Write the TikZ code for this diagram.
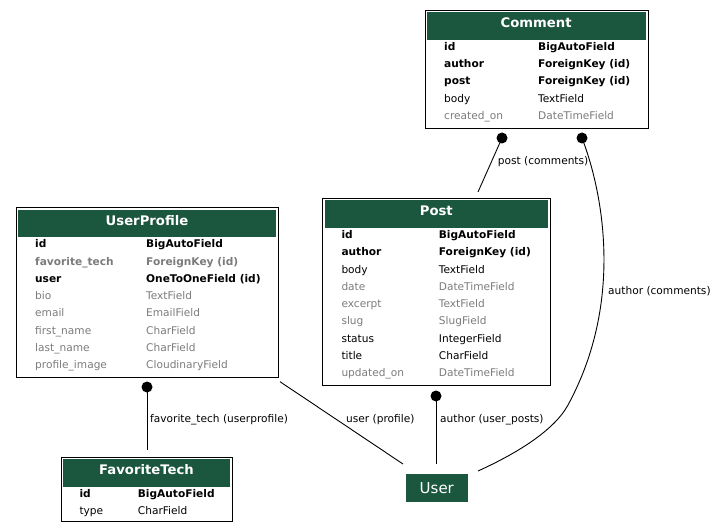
\documentclass[tikz,border=0pt]{standalone}
\usepackage{fontspec}
\setmainfont{DejaVu Sans}
\definecolor{hdr}{HTML}{1B563F}
\definecolor{dim}{HTML}{7B7B7B}
\tikzset{
  tableframe/.style={draw=black, line width=1pt, anchor=north west, inner sep=0pt},
  headbar/.style={fill=hdr, anchor=north west, inner sep=0pt},
  headtext/.style={text=white, font=\fontsize{13.2}{15}\selectfont\bfseries, anchor=base, inner sep=0pt},
  fieldtext/.style={anchor=base west, inner sep=0pt, font=\fontsize{10.6}{12}\selectfont},
  fb/.style={fieldtext, font=\fontsize{10.6}{12}\selectfont\bfseries},
  fbg/.style={fb, text=dim},
  fn/.style={fieldtext},
  fg/.style={fieldtext, text=dim},
  reltext/.style={anchor=base west, inner sep=0pt, font=\fontsize{10.6}{12}\selectfont},
  knob/.style={circle, fill=black, inner sep=0pt, minimum size=11pt},
  rel/.style={line width=0.9pt},
  userbox/.style={fill=hdr, text=white, inner sep=0pt, minimum width=62pt, minimum height=27.5pt,
    font=\fontsize{15}{17}\selectfont},
}
% \erdtable{name}{left}{top}{right}{bottom}{title}{col1 x}{col2 x}{rows}
\newcommand{\erdtable}[9]{%
  \node[tableframe, minimum width={#4pt-#2pt}, minimum height={#5pt-#3pt}] (#1) at (#2,#3) {};
  \node[headbar, minimum width={#4pt-#2pt-4.4pt}, minimum height=27.5pt] (#1-head) at (#2+2.2,#3+2.2) {};
  \node[headtext] (#1-title) at ({(#2+#4)/2},#3+17.9) {#6};
  \foreach [count=\i] \s/\f/\t in {#9} {
    \node[\s] (#1-f\i) at (#7,{#3+40.4+(\i-1)*17.3}) {\f};
    \node[\s] (#1-t\i) at (#8,{#3+40.4+(\i-1)*17.3}) {\t};
  }%
}
\begin{document}
\begin{tikzpicture}[x=1pt,y=-1pt]
\useasboundingbox (0,0) rectangle (718,532);

% tables
\erdtable{comment}{424.5}{10}{647.7}{127.7}{Comment}{444}{538}{%
  fb/id/BigAutoField, fb/author/ForeignKey (id), fb/post/ForeignKey (id),
  fn/body/TextField, fg/created\_on/DateTimeField}
\erdtable{post}{322.3}{198}{550.3}{385}{Post}{341.3}{438.7}{%
  fb/id/BigAutoField, fb/author/ForeignKey (id), fn/body/TextField,
  fg/date/DateTimeField, fg/excerpt/TextField, fg/slug/SlugField,
  fn/status/IntegerField, fn/title/CharField, fg/updated\_on/DateTimeField}
\erdtable{profile}{15.7}{207.3}{278.3}{376.7}{UserProfile}{35}{146}{%
  fb/id/BigAutoField, fbg/favorite\_tech/ForeignKey (id), fb/user/OneToOneField (id),
  fg/bio/TextField, fg/email/EmailField, fg/first\_name/CharField,
  fg/last\_name/CharField, fg/profile\_image/CloudinaryField}
\erdtable{tech}{61}{456.7}{232}{521}{FavoriteTech}{79.3}{137.7}{%
  fb/id/BigAutoField, fn/type/CharField}

\node[userbox] (user) at (436.8,488) {User};

% relation end points
\node[knob] (k-cpost) at (502,138) {};
\node[knob] (k-cauthor) at (582,138) {};
\node[knob] (k-pauthor) at (436,396) {};
\node[knob] (k-ptech) at (147,387) {};
\coordinate (post-in) at (478,192);
\coordinate (tech-in) at (147,450);
\coordinate (prof-out) at (280,381.7);
\coordinate (user-a) at (403,464);
\coordinate (user-b) at (436,464);
\coordinate (user-c) at (478,471);

% relations
\draw[rel] (k-cpost.center) -- (post-in);
\draw[rel] (k-cauthor.center) .. controls (602,190) and (625,300) .. (568,405)
  .. controls (555,429) and (520,452) .. (user-c);
\draw[rel] (k-pauthor.center) -- (user-b);
\draw[rel] (k-ptech.center) -- (tech-in);
\draw[rel] (prof-out) -- (user-a);

% relation labels
\node[reltext] (l-cpost) at (497.7,165) {post (comments)};
\node[reltext] (l-cauthor) at (608,294.5) {author (comments)};
\node[reltext] (l-pauthor) at (440,422) {author (user\_posts)};
\node[reltext] (l-ptech) at (150,422) {favorite\_tech (userprofile)};
\node[reltext] (l-puser) at (346,422) {user (profile)};
\end{tikzpicture}
\end{document}
